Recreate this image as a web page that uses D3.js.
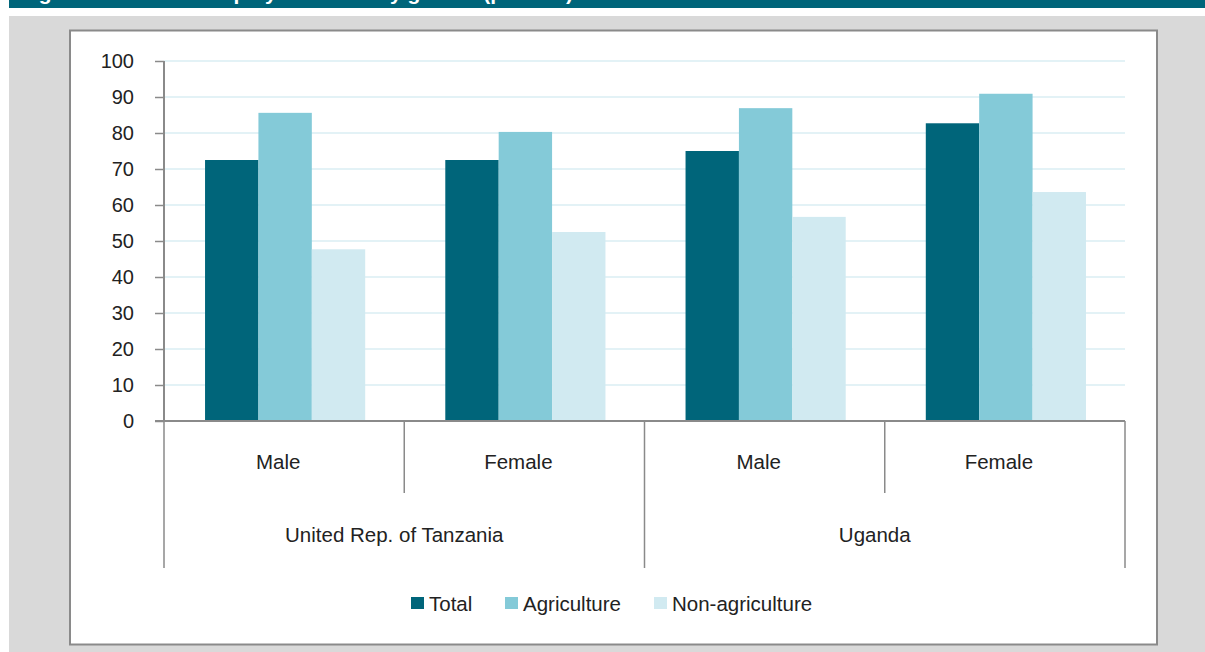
<!DOCTYPE html>
<html>
<head>
<meta charset="utf-8">
<script src="https://cdn.jsdelivr.net/npm/d3@7"></script>
<style>
  body { margin: 0; background: #fff; }
  svg { display: block; font-family: "Liberation Sans", Arial, sans-serif; }
</style>
</head>
<body>
<svg id="chart" width="1205" height="652"></svg>
<script>
const countries = ["United Rep. of Tanzania", "Uganda"];
const genders = ["Male", "Female"];
const groups = ["Tanzania-Male", "Tanzania-Female", "Uganda-Male", "Uganda-Female"];
const series = ["Total", "Agriculture", "Non-agriculture"];
const colors = ["#00657a", "#84cad8", "#d1eaf1"];
const total = [72.5, 72.5, 75.0, 82.7];
const agriculture = [85.6, 80.3, 86.9, 90.9];
const nonAgriculture = [47.7, 52.5, 56.7, 63.6];
const yTicks = [0, 10, 20, 30, 40, 50, 60, 70, 80, 90, 100];

const values = [total, agriculture, nonAgriculture];

const svg = d3.select("#chart");

// title band (text is cut off at the top, as in the source)
svg.append("rect").attr("x", 9).attr("y", 0).attr("width", 1196).attr("height", 8).attr("fill", "#00657a");
svg.append("clipPath").attr("id", "bandclip")
    .append("rect").attr("x", 9).attr("y", 0).attr("width", 1196).attr("height", 8);
svg.append("text")
    .attr("clip-path", "url(#bandclip)")
    .attr("x", 20).attr("y", -0.5)
    .attr("fill", "#fff").attr("font-weight", "bold").attr("font-size", 21)
    .text("Figure 4: Informal employment rate by gender (percent)");

// grey backdrop
svg.append("rect").attr("x", 9).attr("y", 16).attr("width", 1196).attr("height", 636).attr("fill", "#d9d9d9");

// white panel
svg.append("rect")
    .attr("x", 70).attr("y", 30.5).attr("width", 1087).attr("height", 614)
    .attr("fill", "#fff").attr("stroke", "#8a8a8a").attr("stroke-width", 2);

const plotL = 164, plotR = 1125, plotT = 61, plotB = 421;

const x = d3.scaleBand().domain(groups).range([plotL, plotR]).paddingInner(0).paddingOuter(0);
const xs = d3.scaleBand().domain(series).range([0, x.bandwidth()]).paddingOuter(0.75).paddingInner(0);
const y = d3.scaleLinear().domain([0, 100]).range([plotB, plotT]);

// gridlines
svg.append("g")
    .selectAll("line")
    .data(yTicks.slice(1))
    .enter().append("line")
    .attr("x1", plotL).attr("x2", plotR)
    .attr("y1", d => y(d)).attr("y2", d => y(d))
    .attr("stroke", "#daeef3").attr("stroke-width", 1.5);

// bars
groups.forEach((g, gi) => {
    svg.append("g")
        .selectAll("rect")
        .data(series)
        .enter().append("rect")
        .attr("x", s => x(g) + xs(s) + 1)
        .attr("width", xs.bandwidth())
        .attr("y", (s, si) => y(values[si][gi]))
        .attr("height", (s, si) => plotB - y(values[si][gi]))
        .attr("fill", (s, si) => colors[si]);
});

// y axis
const yAxis = svg.append("g")
    .attr("transform", `translate(${plotL},0)`)
    .call(d3.axisLeft(y).tickValues(yTicks).tickSize(9).tickPadding(21));
yAxis.select(".domain").attr("stroke", "#8a8a8a").attr("stroke-width", 2).attr("d", `M0,${plotT}V${plotB}`);
yAxis.selectAll(".tick line").attr("stroke", "#8a8a8a").attr("stroke-width", 1.5);
yAxis.selectAll(".tick text").attr("font-size", 20).attr("fill", "#222");

// x axis line
svg.append("line")
    .attr("x1", plotL - 9).attr("x2", plotR)
    .attr("y1", plotB).attr("y2", plotB)
    .attr("stroke", "#8a8a8a").attr("stroke-width", 2);

// category separators
const innerSeps = [x(groups[1]), x(groups[3])];
const outerSeps = [plotL, x(groups[2]), plotR];
svg.append("g").selectAll("line").data(innerSeps).enter().append("line")
    .attr("x1", d => d).attr("x2", d => d)
    .attr("y1", plotB).attr("y2", 493)
    .attr("stroke", "#8a8a8a").attr("stroke-width", 1.5);
svg.append("g").selectAll("line").data(outerSeps).enter().append("line")
    .attr("x1", d => d).attr("x2", d => d)
    .attr("y1", plotB).attr("y2", 568)
    .attr("stroke", "#8a8a8a").attr("stroke-width", 1.5);

// gender labels
svg.append("g").selectAll("text").data(groups).enter().append("text")
    .attr("x", g => x(g) + x.bandwidth() / 2 - 6)
    .attr("y", 469)
    .attr("text-anchor", "middle")
    .attr("font-size", 20.5).attr("fill", "#222")
    .text((g, i) => genders[i % 2]);

// country labels
svg.append("g").selectAll("text").data(countries).enter().append("text")
    .attr("x", (c, i) => x(groups[i * 2]) + x.bandwidth() - 10)
    .attr("y", 542)
    .attr("text-anchor", "middle")
    .attr("font-size", 20.5).attr("fill", "#222")
    .text(c => c);

// legend
const legendX = [411, 505, 654];
const legend = svg.append("g").selectAll("g").data(series).enter().append("g")
    .attr("transform", (s, i) => `translate(${legendX[i]},597)`);
legend.append("rect").attr("width", 13).attr("height", 12).attr("fill", (s, i) => colors[i]);
legend.append("text")
    .attr("x", 18).attr("y", 13.5)
    .attr("font-size", 20.5).attr("fill", "#222")
    .text(s => s);
</script>
</body>
</html>
